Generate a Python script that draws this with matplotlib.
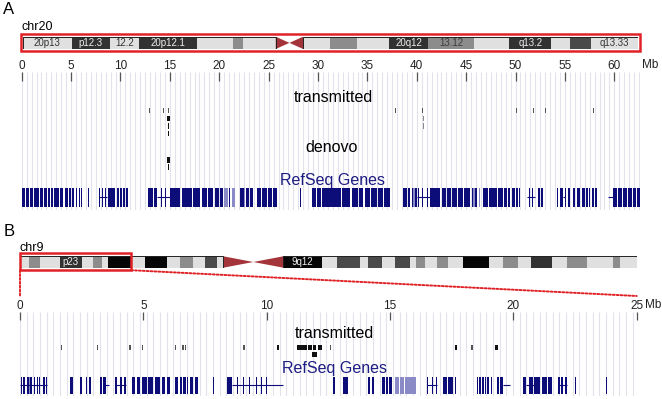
import numpy as np
import matplotlib
matplotlib.use('Agg')
import matplotlib.pyplot as plt
from matplotlib.patches import Rectangle, Polygon, ConnectionPatch
from matplotlib import transforms

plt.rcParams['font.family'] = ['Liberation Sans', 'DejaVu Sans']

W, H = 662, 399

# ---------------- data ----------------
# chr20 ideogram (Mb)
chr20_len = 63.0
chr20_cen = (25.9, 28.7)
chr20_bands = [
    (0.0, 5.0, 'light', '20p13'), (5.0, 8.9, 'dark', 'p12.3'), (8.9, 11.9, 'light', '12.2'),
    (11.9, 17.8, 'dark', '20p12.1'), (17.8, 21.5, 'light', ''), (21.5, 22.5, 'mid', ''),
    (22.5, 25.9, 'light', ''), (28.7, 31.5, 'light', ''), (31.5, 34.2, 'mid', ''),
    (34.2, 37.5, 'light', ''), (37.5, 41.5, 'dark', '20q12'), (41.5, 46.2, 'mid', '13.12'),
    (46.2, 49.8, 'light', ''), (49.8, 54.1, 'dark', 'q13.2'), (54.1, 56.0, 'light', ''),
    (56.0, 58.2, 'dgray', ''), (58.2, 63.0, 'light', 'q13.33'),
]

# chr9 ideogram (Mb)
chr9_len = 141.2
chr9_cen = (46.55, 60.29)
chr9_zoom = (0.0, 25.45)
chr9_bands = [
    (0.0, 2.13, 'light', ''), (2.13, 4.58, 'mid', ''), (4.58, 9.16, 'light', ''),
    (9.16, 14.13, 'dark', 'p23'), (14.13, 16.78, 'light', ''), (16.78, 18.71, 'mid', ''),
    (18.71, 20.22, 'light', ''), (20.22, 25.5, 'black', ''), (25.5, 28.62, 'light', ''),
    (28.62, 33.59, 'black', ''), (33.59, 36.64, 'light', ''), (36.64, 39.68, 'mid', ''),
    (39.68, 42.36, 'light', ''), (42.36, 45.04, 'dgray', ''), (45.04, 46.55, 'light', ''),
    (60.29, 69.09, 'black', '9q12'), (69.09, 72.52, 'light', ''), (72.52, 77.86, 'dgray', ''),
    (77.86, 79.76, 'light', ''), (79.76, 82.83, 'dgray', ''), (82.83, 85.87, 'light', ''),
    (85.87, 89.31, 'dgray', ''), (89.31, 90.68, 'light', ''), (90.68, 92.74, 'mid', ''),
    (92.74, 95.42, 'light', ''), (95.42, 98.07, 'mid', ''), (98.07, 101.51, 'light', ''),
    (101.51, 107.47, 'black', ''), (107.47, 110.53, 'light', ''), (110.53, 114.1, 'mid', ''),
    (114.1, 117.01, 'light', ''), (117.01, 121.75, 'dark', ''), (121.75, 125.33, 'light', ''),
    (125.33, 129.77, 'mid', ''), (129.77, 135.72, 'light', ''), (135.72, 137.4, 'mid', ''),
    (137.4, 141.2, 'light', ''),
]

# panel A tracks: (start Mb, end Mb, row, shade)
a_transmitted = [
    (12.85, 12.95, 0, 'gray'), (14.33, 14.41, 0, 'gray'), (14.46, 14.54, 0, 'gray'),
    (14.8, 14.95, 0, 'gray'), (14.75, 14.98, 1, 'black'), (14.84, 14.91, 2, 'black'),
    (14.82, 14.94, 3, 'black'),
    (37.8, 37.9, 0, 'gray'), (40.55, 40.63, 0, 'gray'), (40.7, 40.78, 0, 'gray'),
    (40.62, 40.72, 1, 'lgray'), (40.62, 40.72, 2, 'lgray'),
    (50.0, 50.1, 0, 'gray'), (51.75, 51.85, 0, 'gray'), (52.95, 53.05, 0, 'gray'),
    (57.8, 57.9, 0, 'gray'),
]
a_denovo = [
    (14.7, 14.98, 0, 'black'), (14.84, 14.92, 1, 'black'),
]
a_genes = [
    (0.0, 0.35), (0.4, 0.75), (0.8, 1.18), (1.28, 1.5), (1.55, 1.79), (1.89, 2.2), (2.25, 2.53),
    (2.63, 2.9), (2.95, 3.2), (3.3, 3.55), (3.6, 3.81), (3.88, 4.05), (4.1, 4.22), (4.38, 4.55),
    (4.6, 4.72), (4.82, 5.0), (5.1, 5.3), (5.5, 5.63), (5.84, 5.92), (5.98, 6.07), (6.72, 6.8),
    (7.86, 7.94), (8.1, 8.2), (8.45, 8.55), (8.77, 9.1), (9.15, 9.45), (9.68, 9.9), (9.95, 10.12),
    (10.29, 10.5), (10.55, 10.8), (11.85, 11.92),
    (12.82, 13.3), (13.35, 13.66), (14.1, 14.18), (14.5, 14.6), (15.02, 15.5), (15.55, 16.03),
    (16.2, 16.7), (16.75, 17.2), (17.38, 17.7), (17.75, 18.05), (18.22, 18.8), (18.85, 19.4),
    (19.57, 20.0), (20.05, 20.4), (21.0, 21.1), (22.1, 22.5), (22.7, 23.0), (23.15, 23.45),
    (23.79, 24.2), (24.3, 24.8), (24.97, 25.3), (25.45, 25.8), (26.12, 26.18), (28.22, 28.3),
    (29.36, 29.8), (29.85, 30.3), (30.4, 30.8), (30.85, 31.22), (31.25, 31.7), (31.75, 32.3),
    (32.4, 32.8), (32.85, 33.24), (33.4, 34.0), (34.1, 34.6), (34.75, 35.3), (35.4, 35.93),
    (36.04, 36.6), (36.7, 37.28),
    (38.63, 39.0), (39.1, 39.31), (39.48, 39.6), (39.85, 39.98), (40.1, 40.2), (40.5, 40.6),
    (41.0, 41.1), (41.33, 41.8), (41.85, 42.35), (42.52, 43.0), (43.1, 43.5), (43.6, 44.04),
    (44.2, 44.7), (44.8, 45.38), (45.55, 45.7), (45.9, 46.06),
    (46.73, 47.2), (47.3, 47.7), (47.75, 48.08), (48.25, 48.7), (48.8, 49.1), (49.2, 49.43),
    (49.6, 49.9), (50.0, 50.2), (50.3, 50.45), (51.12, 51.2), (51.4, 51.46), (51.7, 51.8),
    (52.3, 52.5), (52.6, 52.81), (54.16, 54.3), (54.5, 54.83), (55.0, 55.15), (55.35, 55.5),
    (55.85, 56.0), (56.2, 56.52), (56.69, 57.0), (57.1, 57.3), (57.4, 57.53), (57.7, 57.9),
    (58.0, 58.21), (59.9, 60.3), (60.4, 60.8), (60.9, 61.3), (61.4, 61.8), (61.9, 62.2), (62.3, 62.6),
]
a_genes_light = [(20.45, 20.9), (21.26, 21.6), (22.55, 22.65), (45.7, 45.9), (46.3, 46.4), (39.6, 39.85)]
a_introns = [(7.86, 8.6), (13.66, 15.02), (39.98, 41.33), (51.12, 52.0), (59.39, 59.9), (54.83, 55.0)]

# panel B tracks
b_transmitted = [
    (1.66, 1.72, 0, 'gray'), (3.12, 3.18, 0, 'gray'), (4.43, 4.49, 0, 'gray'), (4.94, 5.0, 0, 'gray'),
    (6.28, 6.34, 0, 'gray'), (6.57, 6.63, 0, 'gray'), (6.68, 6.74, 0, 'gray'), (9.06, 9.12, 0, 'gray'),
    (10.4, 10.5, 0, 'black'), (11.22, 11.62, 0, 'black'), (11.69, 11.82, 0, 'black'),
    (11.89, 12.0, 0, 'black'), (12.09, 12.23, 0, 'black'), (12.55, 12.6, 0, 'gray'),
    (11.82, 12.05, 1, 'black'),
    (17.62, 17.7, 0, 'black'), (18.3, 18.37, 0, 'gray'), (19.26, 19.36, 0, 'black'),
]
b_genes = [
    (0.03, 0.1), (0.14, 0.2), (0.27, 0.35), (0.4, 0.47), (0.55, 0.6), (0.68, 0.72), (0.78, 0.82),
    (0.95, 1.0), (1.05, 1.1), (2.03, 2.16), (2.43, 2.5), (2.68, 2.73), (2.81, 2.86), (3.24, 3.31),
    (3.38, 3.49), (3.85, 3.92), (4.05, 4.12), (4.22, 4.3), (4.53, 4.66), (4.73, 4.87), (4.93, 5.13),
    (5.2, 5.4), (5.47, 5.67), (5.74, 5.88), (5.95, 6.08), (6.28, 6.42), (6.47, 6.55), (6.62, 6.72),
    (6.76, 6.82), (6.89, 7.0), (7.09, 7.16), (7.19, 7.23), (7.84, 7.87), (8.38, 8.58), (8.78, 8.82),
    (9.05, 9.08), (9.3, 9.33), (9.58, 9.61), (9.78, 9.8), (9.98, 10.01), (10.2, 10.22), (10.4, 10.43),
    (10.65, 10.68), (12.7, 12.77), (13.11, 13.31), (14.12, 14.19), (14.26, 14.35), (14.66, 14.8),
    (14.84, 14.93), (14.97, 15.07), (16.48, 16.55), (16.69, 16.76), (16.86, 16.92), (17.16, 17.3),
    (17.35, 17.57), (17.62, 17.66), (17.78, 17.8), (18.51, 18.56), (18.6, 18.68), (18.72, 18.8),
    (18.84, 18.9), (18.94, 19.03), (19.08, 19.14), (19.32, 19.42), (19.47, 19.59), (20.4, 20.5),
    (20.62, 20.8), (20.84, 21.1), (21.15, 21.35), (21.4, 21.55), (21.82, 21.9), (21.95, 22.03),
    (22.08, 22.19), (22.5, 22.53), (23.76, 23.8), (23.83, 23.85),
]
b_genes_light = [(15.2, 15.35), (15.4, 15.55), (15.6, 16.05), (0.36, 0.4)]
b_introns = [(0.0, 1.1), (3.38, 3.6), (3.85, 4.3), (8.58, 10.68), (16.48, 16.92),
             (19.59, 19.86), (20.5, 20.9), (21.82, 22.19)]

a_ticks = [0, 5, 10, 15, 20, 25, 30, 35, 40, 45, 50, 55, 60]
b_ticks = [0, 5, 10, 15, 20, 25]

# ---------------- styles ----------------
band_col = {'light': '#e0e0e0', 'mid': '#8c8c8c', 'dgray': '#4a4a4a', 'dark': '#323232', 'black': '#060606'}
band_txt = {'light': '#333333', 'mid': '#3c3c3c', 'dgray': '#eeeeee', 'dark': '#eeeeee', 'black': '#eeeeee'}
mark_col = {'black': '#111111', 'gray': '#555555', 'lgray': '#8a8a8a'}
navy = '#0d0d7a'
light_navy = '#8a8ac6'
red = '#e02226'
cen_col = '#a3353a'
grid_col = '#e2e2ec'

fig = plt.figure(figsize=(W / 100, H / 100), dpi=100)


def px_axes(x0, y0, x1, y1):
    return fig.add_axes([x0 / W, 1 - y1 / H, (x1 - x0) / W, (y1 - y0) / H])


def px_text(x, y, s, **kw):
    fig.text(x / W, 1 - y / H, s, **kw)


def draw_ideogram(ax, bands, cen, length):
    ax.set_xlim(0, length)
    ax.set_ylim(0, 1)
    ax.axis('off')
    for s, e, shade, lab in bands:
        ax.broken_barh([(s, e - s)], (0, 1), facecolors=band_col[shade], edgecolor='none')
        if lab:
            ax.text((s + e) / 2, 0.48, lab, ha='center', va='center', fontsize=7, color=band_txt[shade])
    c0, c1 = cen
    cm = (c0 + c1) / 2
    ax.add_patch(Polygon([(c0, 0), (c0, 1), (cm, 0.5)], closed=True, fc=cen_col, ec='none'))
    ax.add_patch(Polygon([(c1, 0), (c1, 1), (cm, 0.5)], closed=True, fc=cen_col, ec='none'))
    ax.add_patch(Rectangle((0, 0), c0, 1, fill=False, ec='#222222', lw=0.7))
    ax.add_patch(Rectangle((c1, 0), length - c1, 1, fill=False, ec='#222222', lw=0.7))


def draw_track(ax, xmax, ylim, step, ticks, ticklen):
    ax.set_xlim(0, xmax)
    ax.set_ylim(ylim[1], ylim[0])
    ax.set_facecolor('none')
    for sp in ax.spines.values():
        sp.set_visible(False)
    ax.vlines(np.arange(0, xmax + 0.01, step), ylim[0], ylim[1], color=grid_col, lw=0.8, zorder=0)
    ax.xaxis.tick_top()
    ax.set_xticks(ticks)
    ax.set_xticklabels([str(t) for t in ticks])
    ax.tick_params(axis='x', direction='in', length=ticklen, width=0.9, color='#555555',
                   pad=0, labelsize=8.5, labelcolor='#222222')
    ax.set_yticks([])


def draw_marks(ax, marks, top, step, h):
    for s, e, row, shade in marks:
        ax.broken_barh([(s, e - s)], (top + row * step, h), facecolors=mark_col[shade], edgecolor='none')


def draw_genes(ax, genes, light, introns, y, h):
    ax.hlines([y + h / 2] * len(introns), [i[0] for i in introns], [i[1] for i in introns],
              color=navy, lw=0.8)
    ax.broken_barh([(s, e - s) for s, e in light], (y, h), facecolors=light_navy, edgecolor='none')
    ax.broken_barh([(s, e - s) for s, e in genes], (y, h), facecolors=navy, edgecolor='none')


# ---------------- panel A ----------------
px_text(9, 10, 'A', fontsize=12, ha='center', va='center')
px_text(21, 27, 'chr20', fontsize=9, ha='left', va='center')

ideo_a = px_axes(22.7, 36.7, 638.2, 49)
draw_ideogram(ideo_a, chr20_bands, chr20_cen, chr20_len)
ideo_a.add_patch(Rectangle((-0.14, -0.19), 63.29, 1.38, fill=False, ec=red, lw=1.8, clip_on=False))

ax_a = px_axes(21.7, 71.8, 640, 210)
draw_track(ax_a, 62.6, (71.8, 210), 0.5, a_ticks, 6.5)
px_text(650, 65.5, 'Mb', fontsize=8.5, ha='center', va='center', color='#222222')
draw_marks(ax_a, a_transmitted, 108, 7.6, 5.5)
draw_marks(ax_a, a_denovo, 157, 7.0, 6)
draw_genes(ax_a, a_genes, a_genes_light, a_introns, 188, 19)
px_text(333, 97, 'transmitted', fontsize=11.5, ha='center', va='center')
px_text(332, 147, 'denovo', fontsize=11.5, ha='center', va='center')
px_text(332, 181, 'RefSeq Genes', fontsize=11.5, ha='center', va='center', color='#1c1c82')

# ---------------- panel B ----------------
px_text(9, 231, 'B', fontsize=12, ha='center', va='center')
px_text(19, 248, 'chr9', fontsize=9, ha='left', va='center')

ideo_b = px_axes(20, 256.3, 636.7, 267.7)
draw_ideogram(ideo_b, chr9_bands, chr9_cen, chr9_len)
box_bottom = -0.22
ideo_b.add_patch(Rectangle((chr9_zoom[0], box_bottom), chr9_zoom[1] - chr9_zoom[0], 1.48,
                           fill=False, ec=red, lw=1.8, clip_on=False))

ax_b = px_axes(20, 311.8, 636.7, 396)
draw_track(ax_b, 25, (311.8, 396), 0.27, b_ticks, 5.5)
px_text(645, 305, 'Mb', fontsize=8.5, ha='left', va='center', color='#222222')
draw_marks(ax_b, b_transmitted, 345, 7.0, 5)
draw_genes(ax_b, b_genes, b_genes_light, b_introns, 377, 17)
px_text(334, 333, 'transmitted', fontsize=11.5, ha='center', va='center')
px_text(334, 369, 'RefSeq Genes', fontsize=11.5, ha='center', va='center', color='#1c1c82')

# dotted zoom lines from the chr9 box down to the track
blend_b = transforms.blended_transform_factory(ax_b.transData, ax_b.transAxes)
y_top = (396 - 296) / (396 - 311.8)
for xa, xb in [(chr9_zoom[0], 0), (chr9_zoom[1], 25)]:
    con = ConnectionPatch(xyA=(xa, box_bottom), coordsA=ideo_b.transData,
                          xyB=(xb, y_top), coordsB=blend_b,
                          color=red, lw=1.4, linestyle=(0, (1, 1)))
    fig.add_artist(con)

fig.savefig('out.png', dpi=100)
